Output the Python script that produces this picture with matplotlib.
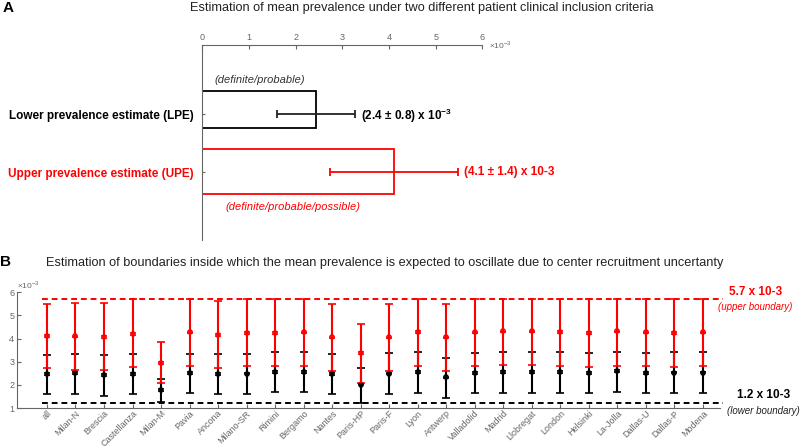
import numpy as np
import matplotlib
matplotlib.use("Agg")
import matplotlib.pyplot as plt

plt.rcParams['font.family'] = ['Liberation Sans', 'DejaVu Sans']
plt.rcParams['mathtext.fontset'] = 'custom'
plt.rcParams['mathtext.rm'] = 'Liberation Sans'
plt.rcParams['mathtext.bf'] = 'Liberation Sans:bold'

# panel A: mean prevalence (x 10^-3)
est_labels = ["Lower prevalence estimate (LPE)", "Upper prevalence estimate (UPE)"]
est_mean = [2.43, 4.1]
est_err = [0.84, 1.37]

# panel B: per-center estimates (x 10^-3)
centers = ['all', 'Milan-N', 'Brescia', 'Castellanza', 'Milan-M', 'Pavia', 'Ancona',
           'Milano-SR', 'Rimini', 'Bergamo', 'Nantes', 'Paris-HP', 'Paris-F', 'Lyon',
           'Antwerp', 'Valladolid', 'Madrid', 'Llobregat', 'London', 'Helsinki',
           'La-Jolla', 'Dallas-U', 'Dallas-P', 'Modena']
lpe_mean = [2.46, 2.50, 2.43, 2.46, 1.78, 2.50, 2.47, 2.49, 2.56, 2.56, 2.46, 2.01,
            2.49, 2.56, 2.32, 2.50, 2.56, 2.56, 2.56, 2.50, 2.59, 2.52, 2.53, 2.53]
lpe_low = [1.61, 1.61, 1.54, 1.61, 1.28, 1.64, 1.61, 1.61, 1.68, 1.68, 1.59, 1.23,
           1.62, 1.67, 1.44, 1.64, 1.67, 1.67, 1.67, 1.64, 1.68, 1.64, 1.65, 1.65]
lpe_high = [3.27, 3.35, 3.31, 3.34, 2.27, 3.35, 3.35, 3.35, 3.41, 3.41, 3.34, 2.74,
            3.37, 3.41, 3.17, 3.38, 3.41, 3.41, 3.41, 3.38, 3.44, 3.38, 3.41, 3.41]
upe_mean = [4.12, 4.09, 4.06, 4.20, 2.95, 4.26, 4.16, 4.23, 4.23, 4.26, 4.05, 3.38,
            4.05, 4.29, 4.05, 4.26, 4.31, 4.31, 4.29, 4.23, 4.31, 4.26, 4.23, 4.26]
upe_low = [2.73, 2.64, 2.64, 2.78, 2.08, 2.81, 2.71, 2.80, 2.80, 2.81, 2.60, 2.10,
           2.59, 2.81, 2.60, 2.81, 2.84, 2.84, 2.81, 2.78, 2.81, 2.81, 2.78, 2.81]
upe_high = [5.50, 5.55, 5.52, 5.69, 3.83, 5.69, 5.60, 5.69, 5.69, 5.69, 5.50, 4.61,
            5.50, 5.72, 5.50, 5.69, 5.72, 5.72, 5.72, 5.69, 5.72, 5.72, 5.69, 5.69]
upper_bound = 5.72
lower_bound = 1.22

RED = '#ff0000'
GRAY = '#666666'

fig = plt.figure(figsize=(8, 4.46), dpi=100)

# ---------------- panel A
axA = fig.add_axes([0.253, 0.462, 0.35, 0.437])
ycat = [1, 2]
axA.barh([0.91, 1.99], est_mean, height=[0.64, 0.79], fill=False,
         edgecolor=['k', RED], linewidth=1.3)
for y, m, e, c in zip(ycat, est_mean, est_err, ['#222222', RED]):
    axA.errorbar(m, y, xerr=e, fmt='none', ecolor=c, elinewidth=1.3, capsize=3, capthick=1.3)
axA.set_xlim(0, 6)
axA.set_ylim(3.17, -0.195)
axA.xaxis.tick_top()
axA.set_xticks(range(7))
axA.set_yticks(ycat)
axA.set_yticklabels(est_labels, fontsize=8.5, fontweight='bold')
axA.get_yticklabels()[1].set_color(RED)
axA.tick_params(axis='x', direction='in', length=3, color=GRAY, labelsize=6.5,
                labelcolor=GRAY, pad=2)
axA.tick_params(axis='y', direction='in', length=2, color=GRAY, pad=6)
for s in ['right', 'bottom']:
    axA.spines[s].set_visible(False)
for s in ['top', 'left']:
    axA.spines[s].set_color(GRAY)
    axA.spines[s].set_linewidth(0.8)
axA.text(1.022, 1.0, r'$\times10^{-3}$', transform=axA.transAxes, fontsize=6,
         color=GRAY, va='center', ha='left')
axA.text(3.39, 1.03, r'(2.4 ± 0.8) x 10$^{\mathbf{-3}}$', fontsize=8.5,
         fontweight='bold', va='center', ha='left')
axA.text(5.6, 2.0, '(4.1 ± 1.4) x 10-3', fontsize=8.5, fontweight='bold',
         color=RED, va='center', ha='left', clip_on=False)
axA.text(1.24, 0.41, '(definite/probable)', fontsize=8, style='italic',
         color='#333333', ha='center', va='center')
axA.text(1.94, 2.6, '(definite/probable/possible)', fontsize=8, style='italic',
         color=RED, ha='center', va='center')

fig.text(0.003, 0.982, 'A', fontsize=11, fontweight='bold', va='center')
fig.text(0.5275, 0.983,
         'Estimation of mean prevalence under two different patient clinical inclusion criteria',
         fontsize=9.2, ha='center', va='center', color='#222222',
         family=['Liberation Sans Narrow', 'Liberation Sans'])

# ---------------- panel B
axB = fig.add_axes([17 / 800, 0.085, 703 / 800, 0.260])
x = np.arange(1, len(centers) + 1)
lm, lo, hi = map(np.array, (lpe_mean, lpe_low, lpe_high))
axB.errorbar(x, lm, yerr=[lm - lo, hi - lm], fmt='none', ecolor='k',
             elinewidth=1.5, capsize=3, capthick=1.2)
axB.errorbar(x, lm, yerr=0.035, fmt='x', color='k', ms=3, mew=1.2,
             elinewidth=1.0, capsize=2, capthick=1.0)
um, ulo, uhi = map(np.array, (upe_mean, upe_low, upe_high))
axB.errorbar(x, um, yerr=[um - ulo, uhi - um], fmt='none', ecolor=RED,
             elinewidth=1.5, capsize=3, capthick=1.2)
axB.errorbar(x, um, yerr=0.035, fmt='x', color=RED, ms=3, mew=1.2,
             elinewidth=1.0, capsize=2, capthick=1.0)
axB.axhline(upper_bound, xmin=0.036, xmax=1.004, color=RED, ls=(0, (3, 2)),
            lw=1.4, clip_on=False)
axB.axhline(lower_bound, xmin=0.036, xmax=1.004, color='k', ls=(0, (3, 2)),
            lw=1.4, clip_on=False)
axB.set_xlim(-0.05, 24.6)
axB.set_ylim(1, 6)
axB.set_xticks(x)
axB.set_xticklabels(centers, rotation=45, ha='right', rotation_mode='anchor',
                    fontsize=5, color=GRAY)
axB.set_yticks(range(1, 7))
axB.tick_params(direction='in', length=3, color=GRAY, labelsize=6.5,
                labelcolor=GRAY, pad=2)
axB.tick_params(axis='x', pad=0.5)
for s in ['right', 'top']:
    axB.spines[s].set_visible(False)
for s in ['bottom', 'left']:
    axB.spines[s].set_color(GRAY)
    axB.spines[s].set_linewidth(0.8)
axB.text(0.0, 1.06, r'$\times10^{-3}$', transform=axB.transAxes, fontsize=6,
         color=GRAY, va='center', ha='left')

fig.text(0.0, 0.412, 'B', fontsize=11, fontweight='bold', va='center')
fig.text(0.481, 0.41,
         'Estimation of boundaries inside which the mean prevalence is expected to oscillate due to center recruitment uncertanty',
         fontsize=9.15, ha='center', va='center', color='#222222',
         family=['Liberation Sans Narrow', 'Liberation Sans'])
fig.text(0.945, 0.345, '5.7 x 10-3', fontsize=8.5, fontweight='bold', color=RED,
         ha='center', va='center')
fig.text(0.944, 0.312, '(upper boundary)', fontsize=7, style='italic', color=RED,
         ha='center', va='center')
fig.text(0.955, 0.114, '1.2 x 10-3', fontsize=8.5, fontweight='bold', color='k',
         ha='center', va='center')
fig.text(0.954, 0.079, '(lower boundary)', fontsize=7, style='italic', color='#222222',
         ha='center', va='center')

fig.savefig('out.png', dpi=100)
